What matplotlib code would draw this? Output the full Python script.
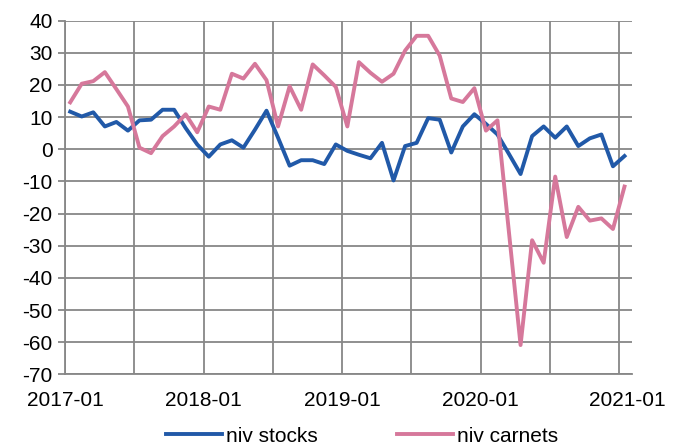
import matplotlib
matplotlib.use("Agg")
import matplotlib.pyplot as plt
import matplotlib.transforms as mtransforms

plt.rcParams['font.family'] = ['Liberation Sans', 'DejaVu Sans']
plt.rcParams['axes.unicode_minus'] = False

# monthly series, 2017-01 .. 2021-01
stocks = [11.7, 10.2, 11.5, 7.1, 8.5, 5.8, 9.0, 9.2, 12.3, 12.3,
          6.6, 1.5, -2.3, 1.5, 2.8, 0.5, 6.1, 12.0, 3.6, -5.1,
          -3.4, -3.4, -4.6, 1.5, -0.5, -1.7, -2.8, 2.0, -9.7, 1.0,
          2.0, 9.7, 9.2, -1.0, 7.1, 10.9, 7.9, 4.6, -1.5, -7.7,
          4.1, 7.1, 3.6, 7.1, 1.0, 3.4, 4.6, -5.3, -2.1]
carnets = [14.6, 20.4, 21.2, 24.0, 18.7, 13.3, 0.5, -1.2, 4.1, 7.1,
           10.9, 5.3, 13.3, 12.3, 23.5, 22.0, 26.6, 21.5, 7.1, 19.6,
           12.3, 26.4, 23.0, 19.4, 7.1, 27.1, 23.8, 21.0, 23.5, 30.7,
           35.3, 35.3, 29.1, 15.8, 14.7, 19.0, 5.8, 9.0, -26.0, -60.9,
           -28.3, -35.3, -8.5, -27.3, -17.9, -22.2, -21.5, -24.8, -11.6]
year_labels = ["2017-01", "2018-01", "2019-01", "2020-01", "2021-01"]

x = [i + 0.45 for i in range(len(stocks))]

fig = plt.figure(figsize=(6.8, 4.48), dpi=100)
ax = fig.add_axes([65/680, 1-374.3/448, (632-65)/680, (374.3-20.7)/448])

grid_c = "#878787"
ax.plot(x, stocks, color="#2159A8", lw=2.8, label="niv stocks", zorder=3)
ax.plot(x, carnets, color="#D6789B", lw=2.8, label="niv carnets", zorder=3)

ax.set_xlim(0, 49.1)
ax.set_ylim(-70, 40)
ax.set_yticks(range(-70, 41, 10))
ax.set_xticks(range(0, 49, 6), minor=True)
ax.set_xticks(range(0, 49, 12))
ax.set_xticklabels(year_labels)
ax.grid(True, which="both", axis="x", color=grid_c, lw=1.3)
ax.grid(True, axis="y", color=grid_c, lw=1.3)
ax.set_axisbelow(True)

for s in ["top", "right"]:
    ax.spines[s].set_visible(False)
for s in ["left", "bottom"]:
    ax.spines[s].set_color(grid_c)
    ax.spines[s].set_linewidth(1.3)

ax.tick_params(axis="y", length=5, width=1.3, color=grid_c, pad=4, labelsize=15)
ax.tick_params(axis="x", which="both", length=0, pad=12, labelsize=15)

# last date label sits a bit to the right, as in the original
last = ax.get_xticklabels()[-1]
last.set_transform(last.get_transform() +
                   mtransforms.ScaledTranslation(8/100, 0, fig.dpi_scale_trans))

fig.legend(loc="center", bbox_to_anchor=(362/680, 1-436/448), ncol=2,
           frameon=False, fontsize=15, handlelength=2.7, handletextpad=0.2,
           columnspacing=3.8, borderpad=0)

fig.savefig("out.png", dpi=100)
